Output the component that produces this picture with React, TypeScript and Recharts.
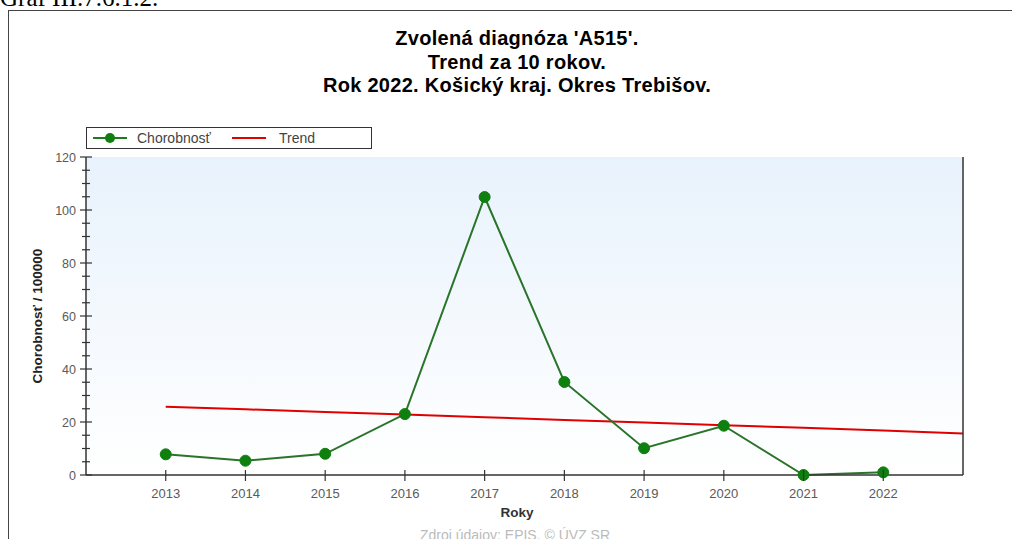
import React from "react";
import {
  ComposedChart,
  Line,
  XAxis,
  YAxis,
} from "recharts";

// years shown on the axis plus the last trend point at the right edge
const YEARS = [2013, 2014, 2015, 2016, 2017, 2018, 2019, 2020, 2021, 2022, 2023];
const CHOROBNOST = [7.8, 5.4, 8.0, 23.0, 104.9, 35.1, 10.1, 18.6, 0, 1.0];
const TREND = [25.8, 24.8, 23.8, 22.8, 21.8, 20.8, 19.8, 18.8, 17.8, 16.8, 15.7];
const X_TICKS = [2013, 2014, 2015, 2016, 2017, 2018, 2019, 2020, 2021, 2022];
const Y_TICKS = [
  0, 5, 10, 15, 20, 25, 30, 35, 40, 45, 50, 55, 60, 65, 70, 75, 80, 85, 90, 95,
  100, 105, 110, 115, 120,
];

const TITLE = [
  "Zvolená diagnóza 'A515'.",
  "Trend za 10 rokov.",
  "Rok 2022. Košický kraj. Okres Trebišov.",
];

const chartData = YEARS.map((year, i) => ({
  year,
  chorobnost: CHOROBNOST[i],
  trend: TREND[i],
}));

const FONT = "'Liberation Sans', Arial, sans-serif";
const AXIS = "#333";
const LABEL = "#5a5a5a";

function XTick({ x, y, payload }: any) {
  return (
    <g>
      <line x1={x} x2={x} y1={y - 5} y2={y + 6} stroke={AXIS} strokeWidth={1.2} />
      <text x={x} y={y + 23} textAnchor="middle" fontSize={13} fill={LABEL} fontFamily={FONT}>
        {payload.value}
      </text>
    </g>
  );
}

function LeftTick({ x, y, payload }: any) {
  const major = payload.value % 20 === 0;
  const len = major ? 6 : 4;
  return (
    <g>
      <line x1={x - len} x2={x + len} y1={y} y2={y} stroke={AXIS} strokeWidth={1.2} />
      {major && (
        <text x={x - 10} y={y + 4.5} textAnchor="end" fontSize={12.5} fill={LABEL} fontFamily={FONT}>
          {payload.value}
        </text>
      )}
    </g>
  );
}

function RightTick({ x, y, payload }: any) {
  const major = payload.value % 20 === 0;
  const len = major ? 6 : 4;
  return (
    <g>
      <line x1={x - len} x2={x + len} y1={y} y2={y} stroke={AXIS} strokeWidth={1.2} />
      {major && (
        <text x={x + 13} y={y + 4.5} textAnchor="start" fontSize={12.5} fill={LABEL} fontFamily={FONT}>
          {payload.value}
        </text>
      )}
    </g>
  );
}

function LegendBox() {
  return (
    <div
      style={{
        position: "absolute",
        left: 86,
        top: 127,
        width: 284,
        height: 20,
        border: "1px solid #333",
        background: "#fff",
      }}
    >
      <svg width={284} height={20} style={{ display: "block" }}>
        <line x1={6} x2={40} y1={10} y2={10} stroke="#1f7a1f" strokeWidth={2} />
        <circle cx={23} cy={10} r={5} fill="#0f7f0f" />
        <text x={50} y={15} fontSize={14} fill="#444" fontFamily={FONT}>
          Chorobnosť
        </text>
        <line x1={145} x2={179} y1={10} y2={10} stroke="#e00000" strokeWidth={2} />
        <text x={192} y={15} fontSize={14} fill="#444" fontFamily={FONT}>
          Trend
        </text>
      </svg>
    </div>
  );
}

export default function App() {
  return (
    <div
      style={{
        position: "absolute",
        left: 0,
        top: 0,
        width: 1012,
        height: 539,
        overflow: "hidden",
        background: "#fff",
        fontFamily: FONT,
      }}
    >
      <div
        style={{
          position: "absolute",
          left: 0,
          top: -15,
          fontFamily: "'Liberation Serif', 'Times New Roman', serif",
          fontSize: 25,
          lineHeight: "25px",
          color: "#000",
        }}
      >
        Graf III.7.6.1.2.
      </div>
      <div
        style={{
          position: "absolute",
          left: 8,
          top: 10,
          width: 1100,
          height: 600,
          border: "1.5px solid #444",
        }}
      />
      <div
        style={{
          position: "absolute",
          left: 86,
          top: 157,
          width: 877,
          height: 318,
          background: "linear-gradient(#e8f2fc, #ffffff)",
        }}
      />
      <div
        style={{
          position: "absolute",
          left: 167,
          top: 27,
          width: 700,
          textAlign: "center",
          fontSize: 20,
          fontWeight: "bold",
          letterSpacing: 0.3,
          lineHeight: "23.5px",
          color: "#000",
        }}
      >
        {TITLE.map((t) => (
          <div key={t}>{t}</div>
        ))}
      </div>
      <LegendBox />
      <div style={{ position: "absolute", left: 0, top: 0 }}>
        <ComposedChart
          width={1012}
          height={539}
          data={chartData}
          margin={{ top: 157, right: 0, bottom: 34, left: 0 }}
        >
          <XAxis
            xAxisId="bottom"
            dataKey="year"
            type="number"
            domain={[2012, 2023]}
            ticks={X_TICKS}
            interval={0}
            height={30}
            tickSize={0}
            tickMargin={0}
            tickLine={false}
            axisLine={{ stroke: AXIS, strokeWidth: 1.5 }}
            tick={(p: any) => <XTick {...p} />}
          />
          <XAxis
            xAxisId="top"
            orientation="top"
            dataKey="year"
            type="number"
            domain={[2012, 2023]}
            ticks={X_TICKS}
            interval={0}
            height={0}
            mirror
            tickSize={3}
            tick={false}
            tickLine={{ stroke: "#666" }}
            axisLine={{ stroke: AXIS, strokeWidth: 1.5 }}
          />
          <YAxis
            yAxisId="left"
            domain={[0, 120]}
            ticks={Y_TICKS}
            interval={0}
            width={86}
            tickSize={0}
            tickMargin={0}
            tickLine={false}
            axisLine={{ stroke: AXIS, strokeWidth: 1.5 }}
            tick={(p: any) => <LeftTick {...p} />}
          />
          <YAxis
            yAxisId="right"
            orientation="right"
            domain={[0, 120]}
            ticks={Y_TICKS}
            interval={0}
            width={49}
            tickSize={0}
            tickMargin={0}
            tickLine={false}
            axisLine={{ stroke: AXIS, strokeWidth: 1.5 }}
            tick={(p: any) => <RightTick {...p} />}
          />
          <Line
            xAxisId="bottom"
            yAxisId="left"
            dataKey="trend"
            stroke="#e00000"
            strokeWidth={2}
            dot={false}
            isAnimationActive={false}
          />
          <Line
            xAxisId="bottom"
            yAxisId="left"
            dataKey="chorobnost"
            stroke="#2a742a"
            strokeWidth={2}
            dot={{ r: 5.5, fill: "#0f7f0f", stroke: "#0f7f0f", strokeWidth: 1 }}
            isAnimationActive={false}
          />
        </ComposedChart>
      </div>
      <div
        style={{
          position: "absolute",
          left: 38,
          top: 316,
          width: 0,
          height: 0,
        }}
      >
        <div
          style={{
            position: "absolute",
            left: -100,
            top: -9,
            width: 200,
            textAlign: "center",
            transform: "rotate(-90deg)",
            fontSize: 13.5,
            fontWeight: "bold",
            color: "#222",
            lineHeight: "18px",
          }}
        >
          Chorobnosť / 100000
        </div>
      </div>
      <div
        style={{
          position: "absolute",
          left: 417,
          top: 505,
          width: 200,
          textAlign: "center",
          fontSize: 13.5,
          fontWeight: "bold",
          color: "#333",
        }}
      >
        Roky
      </div>
      <div
        style={{
          position: "absolute",
          left: 365,
          top: 527,
          width: 300,
          textAlign: "center",
          fontSize: 14,
          color: "#bbb",
        }}
      >
        Zdroj údajov: EPIS, © ÚVZ SR
      </div>
    </div>
  );
}
